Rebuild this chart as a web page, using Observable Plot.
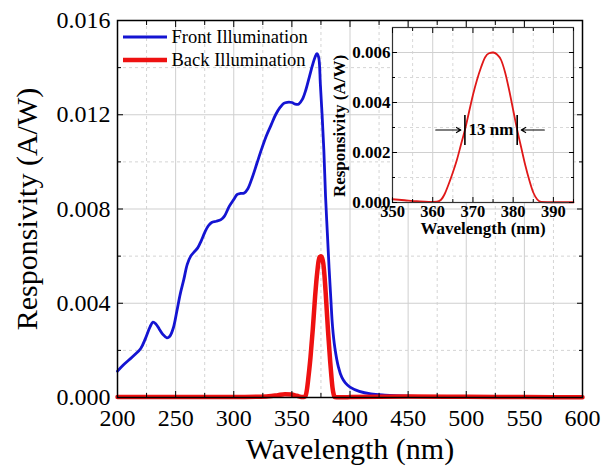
<!DOCTYPE html>
<html>
<head>
<meta charset="utf-8">
<script src="https://cdn.jsdelivr.net/npm/d3@7"></script>
<script src="https://cdn.jsdelivr.net/npm/@observablehq/plot@0.6"></script>
<style>
  body { margin: 0; background: #fff; }
  #wrap { position: relative; width: 601px; height: 471px; overflow: hidden; }
  #wrap > svg { position: absolute; left: 0; top: 0; }
</style>
</head>
<body>
<div id="wrap"></div>
<script>
// ---------------- data ----------------
const seriesNames = ["Front Illumination", "Back Illumination"];
const seriesColors = ["#1414d2", "#ee1111"];

const frontWl = [200,205,210,215,220,224,228,230.5,233,236,239,242.5,245,248,251,254,257,260,263,266,269,272,275,278,281,285,289,292,296,300,303,306,309,312,316,320,324,328,332,336,340,343,346,350,353,356,359,362,365,368,370,371.5,373,374.5,376,377.5,379,380.5,382,383.5,385,387,390,393,396,400,408,418,430,450,480,520,560,600];
const frontResp = [0.00112,0.00138,0.00160,0.00182,0.00208,0.00250,0.00300,0.00320,0.00312,0.00290,0.00268,0.00253,0.00260,0.00295,0.00365,0.00440,0.00500,0.00565,0.00600,0.00618,0.00635,0.00665,0.00700,0.00728,0.00743,0.00748,0.00755,0.00770,0.00810,0.00840,0.00862,0.00866,0.00868,0.00885,0.00935,0.00995,0.01055,0.01110,0.01155,0.01200,0.01232,0.01248,0.01253,0.01252,0.01245,0.01246,0.01265,0.01305,0.01360,0.01415,0.01445,0.01459,0.01445,0.01330,0.01200,0.01050,0.00850,0.00700,0.00550,0.00420,0.00300,0.00210,0.00130,0.00085,0.00062,0.00044,0.00026,0.00015,0.00010,0.00006,0.00004,0.00002,0.00001,0.00001];

const backWl = [200,250,300,320,330,338,344,350,353,356,359,361,362,363,364,365,366,367,368,369,370,371,372,373,374,375,376,377,378,379,380,381,382,383,384,385,386,387,390,395,400,450,500,550,600];
const backResp = [0.00002,0.00002,0.00002,0.00003,0.00005,0.00010,0.00014,0.00013,0.00009,0.00005,0.00002,0.00003,0.00010,0.00035,0.00075,0.00120,0.00170,0.00230,0.00290,0.00360,0.00430,0.00490,0.00540,0.00580,0.00597,0.00600,0.00592,0.00570,0.00520,0.00450,0.00370,0.00290,0.00220,0.00150,0.00090,0.00040,0.00012,0.00002,0.00001,0.00001,0.00002,0.00004,0.00003,0.00002,0.00001];

// main axes ticks
const mainXTicks = [200,250,300,350,400,450,500,550,600];
const mainXMinor = [225,275,325,375,425,475,525,575];
const mainYTicks = [0,0.004,0.008,0.012,0.016];
const mainYMinor = [0.002,0.006,0.010,0.014];

// inset
const insetXDomain = [350,395];
const insetYDomain = [0,0.007];
const insetXTicks = [350,360,370,380,390];
const insetXMinor = [355,365,375,385,395];
const insetYTicks = [0,0.002,0.004,0.006];
const insetYMinor = [0.001,0.003,0.005];

// FWHM annotation
const fwhmEdges = [368,381];
const fwhmBarLow = 0.00228, fwhmBarHigh = 0.00348;
const fwhmLevel = 0.0029;
const fwhmArrowFrom = [360.75, 387.75];
const fwhmArrowTo = [367, 382];
const fwhmLabel = "13 nm";

// ---------------- build ----------------
const serif = "'Liberation Serif', 'Times New Roman', Times, serif";
const front = frontWl.map((w, i) => ({w, r: frontResp[i]}));
const back = backWl.map((w, i) => ({w, r: backResp[i]}));
const backInset = back.filter(d => d.w >= insetXDomain[0] && d.w <= insetXDomain[1]);
const fmt3 = d3.format(".3f");

const wrap = document.getElementById("wrap");

const main = Plot.plot({
  width: 601, height: 471,
  marginLeft: 117, marginRight: 19, marginTop: 20, marginBottom: 74,
  style: {fontFamily: serif, background: "white", color: "black", overflow: "visible"},
  x: {domain: [200, 600], label: null},
  y: {domain: [0, 0.016], label: null},
  marks: [
    Plot.gridX(mainXMinor, {stroke: "#d4d4d4", strokeOpacity: 1, strokeDasharray: "3,3"}),
    Plot.gridX(mainXTicks, {stroke: "#cfcfcf", strokeOpacity: 1}),
    Plot.gridY(mainYMinor, {stroke: "#d4d4d4", strokeOpacity: 1, strokeDasharray: "3,3"}),
    Plot.gridY(mainYTicks, {stroke: "#cfcfcf", strokeOpacity: 1}),
    Plot.line(front, {x: "w", y: "r", stroke: seriesColors[0], strokeWidth: 2.8, curve: "catmull-rom"}),
    Plot.line(back, {x: "w", y: "r", stroke: seriesColors[1], strokeWidth: 4.5, curve: "monotone-x"}),
    Plot.frame({stroke: "black", strokeWidth: 1.5}),
    // inside ticks, all sides
    Plot.axisX(mainXTicks, {anchor: "bottom", tickSize: -6, fill: "none", label: null}),
    Plot.axisX(mainXMinor, {anchor: "bottom", tickSize: -4, fill: "none", label: null}),
    Plot.axisX(mainXTicks, {anchor: "top", tickSize: -6, fill: "none", label: null}),
    Plot.axisX(mainXMinor, {anchor: "top", tickSize: -4, fill: "none", label: null}),
    Plot.axisY(mainYTicks, {anchor: "left", tickSize: -6, fill: "none", label: null}),
    Plot.axisY(mainYMinor, {anchor: "left", tickSize: -4, fill: "none", label: null}),
    Plot.axisY(mainYTicks, {anchor: "right", tickSize: -6, fill: "none", label: null}),
    Plot.axisY(mainYMinor, {anchor: "right", tickSize: -4, fill: "none", label: null}),
    // tick labels
    Plot.axisX(mainXTicks, {anchor: "bottom", tickSize: 0, tickPadding: 11, fontSize: 24, label: null, tickFormat: d3.format("d")}),
    Plot.axisY(mainYTicks, {anchor: "left", tickSize: 0, tickPadding: 7, fontSize: 24, label: null, tickFormat: fmt3}),
    // axis titles
    Plot.text(["Responsivity (A/W)"], {frameAnchor: "left", textAnchor: "middle", lineAnchor: "middle", rotate: -90, dx: -90, fontSize: 30, fill: "black"}),
    Plot.text(["Wavelength (nm)"], {frameAnchor: "bottom", textAnchor: "middle", lineAnchor: "middle", dy: 52, fontSize: 30, fill: "black"})
  ]
});
wrap.appendChild(main);

const inset = Plot.plot({
  width: 601, height: 471,
  marginLeft: 392, marginRight: 28, marginTop: 27, marginBottom: 269,
  style: {fontFamily: serif, background: "transparent", color: "black", fontWeight: "bold", overflow: "visible"},
  x: {domain: insetXDomain, label: null},
  y: {domain: insetYDomain, label: null},
  marks: [
    Plot.frame({fill: "white", stroke: null}),
    Plot.gridX(insetXMinor, {stroke: "#d8d8d8", strokeOpacity: 1, strokeDasharray: "3,3"}),
    Plot.gridX(insetXTicks, {stroke: "#d0d0d0", strokeOpacity: 1}),
    Plot.gridY(insetYMinor, {stroke: "#d8d8d8", strokeOpacity: 1, strokeDasharray: "3,3"}),
    Plot.gridY(insetYTicks, {stroke: "#d0d0d0", strokeOpacity: 1}),
    Plot.line(backInset, {x: "w", y: "r", stroke: "#e01818", strokeWidth: 1.8, curve: "monotone-x"}),
    Plot.arrow(fwhmArrowFrom.map((x1, i) => ({x1, x2: fwhmArrowTo[i], y: fwhmLevel})),
      {x1: "x1", x2: "x2", y1: "y", y2: "y", stroke: "black", strokeWidth: 1.1, headLength: 7, bend: 0, insetEnd: 0}),
    Plot.ruleX(fwhmEdges, {y1: fwhmBarLow, y2: fwhmBarHigh, stroke: "black", strokeWidth: 1.6}),
    Plot.text([fwhmLabel], {x: d3.mean(fwhmEdges), y: fwhmLevel, fontSize: 17, fontWeight: "bold", fill: "black"}),
    Plot.frame({stroke: "#333", strokeWidth: 1.2}),
    Plot.axisX(insetXTicks, {anchor: "bottom", tickSize: -5, fill: "none", label: null}),
    Plot.axisX(insetXMinor, {anchor: "bottom", tickSize: -3, fill: "none", label: null}),
    Plot.axisX(insetXTicks, {anchor: "top", tickSize: -5, fill: "none", label: null}),
    Plot.axisX(insetXMinor, {anchor: "top", tickSize: -3, fill: "none", label: null}),
    Plot.axisY(insetYTicks, {anchor: "left", tickSize: -5, fill: "none", label: null}),
    Plot.axisY(insetYMinor, {anchor: "left", tickSize: -3, fill: "none", label: null}),
    Plot.axisY(insetYTicks, {anchor: "right", tickSize: -5, fill: "none", label: null}),
    Plot.axisY(insetYMinor, {anchor: "right", tickSize: -3, fill: "none", label: null}),
    Plot.axisX(insetXTicks, {anchor: "bottom", tickSize: 0, tickPadding: 3, fontSize: 16.5, fontWeight: "bold", label: null, tickFormat: d3.format("d")}),
    Plot.axisY(insetYTicks, {anchor: "left", tickSize: 0, tickPadding: 2, fontSize: 17, fontWeight: "bold", label: null, tickFormat: fmt3}),
    Plot.text(["Responsivity (A/W)"], {frameAnchor: "left", textAnchor: "middle", lineAnchor: "middle", rotate: -90, dx: -53, dy: 11, fontSize: 17, fontWeight: "bold", fill: "black"}),
    Plot.text(["Wavelength (nm)"], {frameAnchor: "bottom", textAnchor: "middle", lineAnchor: "middle", dy: 26, fontSize: 17, fontWeight: "bold", fill: "black"})
  ]
});
wrap.appendChild(inset);

// legend (inside the main frame, top-left)
const leg = d3.select(wrap).append("svg")
  .attr("width", 601).attr("height", 80)
  .style("font-family", serif);
const legRows = [{y: 37, w: 3}, {y: 60, w: 4.5}];
seriesNames.forEach((name, i) => {
  leg.append("line").attr("x1", 123).attr("x2", 167)
    .attr("y1", legRows[i].y).attr("y2", legRows[i].y)
    .attr("stroke", seriesColors[i]).attr("stroke-width", legRows[i].w);
  leg.append("text").attr("x", 171.5).attr("y", legRows[i].y).attr("dy", "0.34em")
    .attr("font-size", 18.5).attr("fill", "black").text(name);
});
</script>
</body>
</html>
